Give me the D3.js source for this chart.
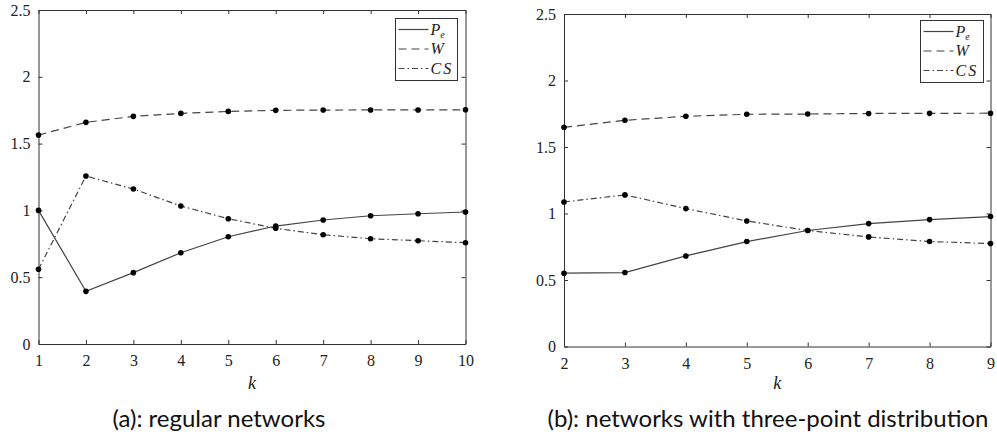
<!DOCTYPE html>
<html>
<head>
<meta charset="utf-8">
<script src="https://cdn.jsdelivr.net/npm/d3@7"></script>
<style>
  body { margin: 0; background: #fff; }
  svg { display: block; }
</style>
</head>
<body>
<svg id="chart" width="997" height="440"></svg>
<script>
// panel (a): regular networks
var kA = [1, 2, 3, 4, 5, 6, 7, 8, 9, 10];
var peA = [1.0, 0.394, 0.534, 0.683, 0.803, 0.883, 0.928, 0.960, 0.975, 0.988];
var wA = [1.564, 1.659, 1.704, 1.726, 1.741, 1.749, 1.751, 1.752, 1.752, 1.753];
var csA = [0.559, 1.257, 1.160, 1.033, 0.938, 0.866, 0.818, 0.788, 0.773, 0.758];

// panel (b): three-point distribution
var kB = [2, 3, 4, 5, 6, 7, 8, 9];
var peB = [0.551, 0.556, 0.681, 0.789, 0.872, 0.924, 0.954, 0.977];
var wB = [1.648, 1.701, 1.731, 1.746, 1.748, 1.752, 1.753, 1.754];
var csB = [1.087, 1.140, 1.037, 0.944, 0.872, 0.824, 0.789, 0.774];

var yTicks = [0, 0.5, 1, 1.5, 2, 2.5];
var legendLabels = ['P', 'W', 'CS'];
var dashes = [null, '8,5', '6,3,1.5,3'];

var serif = '"Liberation Serif"';
var svg = d3.select('#chart');

function drawPanel(opt) {
  var g = svg.append('g');
  var x = d3.scaleLinear().domain(d3.extent(opt.k)).range([opt.left, opt.right]);
  var y = d3.scaleLinear().domain([0, 2.5]).range([opt.bottom, opt.top]);

  // axes, MATLAB style ticks pointing inward
  g.append('g')
    .attr('transform', 'translate(0,' + opt.bottom + ')')
    .call(d3.axisBottom(x).tickValues(opt.k).tickFormat(d3.format('d')).tickSizeInner(-4).tickSizeOuter(0).tickPadding(11));
  g.append('g')
    .attr('transform', 'translate(' + opt.left + ',0)')
    .call(d3.axisLeft(y).tickValues(yTicks).tickFormat(function(d) { return d; }).tickSizeInner(-4).tickSizeOuter(0).tickPadding(8));
  g.append('g')
    .attr('transform', 'translate(0,' + opt.top + ')')
    .call(d3.axisTop(x).tickValues(opt.k).tickFormat('').tickSizeInner(-4).tickSizeOuter(0));
  g.append('g')
    .attr('transform', 'translate(' + opt.right + ',0)')
    .call(d3.axisRight(y).tickValues(yTicks).tickFormat('').tickSizeInner(-4).tickSizeOuter(0));
  g.selectAll('.domain').attr('stroke', '#333');
  g.selectAll('.tick line').attr('stroke', '#333');
  g.selectAll('.tick text')
    .style('font-family', serif)
    .style('font-size', '16px')
    .attr('fill', '#222');

  var series = [opt.pe, opt.w, opt.cs];
  series.forEach(function(vals, i) {
    var pts = opt.k.map(function(k, j) { return [k, vals[j]]; });
    var line = d3.line().x(function(d) { return x(d[0]); }).y(function(d) { return y(d[1]); });
    g.append('path')
      .datum(pts)
      .attr('d', line)
      .attr('fill', 'none')
      .attr('stroke', '#444')
      .attr('stroke-width', 1.2)
      .attr('stroke-dasharray', dashes[i]);
    g.selectAll(null)
      .data(pts)
      .enter()
      .append('circle')
      .attr('cx', function(d) { return x(d[0]); })
      .attr('cy', function(d) { return y(d[1]); })
      .attr('r', 2.8)
      .attr('fill', '#000');
  });

  // x axis label
  g.append('text')
    .attr('x', (opt.left + opt.right) / 2)
    .attr('y', 389)
    .attr('text-anchor', 'middle')
    .style('font-family', serif)
    .style('font-style', 'italic')
    .style('font-size', '18px')
    .attr('fill', '#222')
    .text('k');

  // legend
  var lg = g.append('g').attr('transform', 'translate(' + opt.legX + ',' + opt.legY + ')');
  lg.append('rect')
    .attr('width', opt.legW).attr('height', 62)
    .attr('fill', '#fff').attr('stroke', '#333').attr('stroke-width', 1);
  legendLabels.forEach(function(lab, i) {
    var ly = 11 + i * 19.5;
    lg.append('line')
      .attr('x1', 3).attr('x2', 33).attr('y1', ly).attr('y2', ly)
      .attr('stroke', '#444').attr('stroke-width', 1.2)
      .attr('stroke-dasharray', dashes[i]);
    var t = lg.append('text')
      .attr('x', 35).attr('y', ly + 5)
      .style('font-family', serif)
      .style('font-style', 'italic')
      .style('font-size', '16px')
      .style('letter-spacing', lab === 'CS' ? '2px' : '0px')
      .attr('fill', '#222')
      .text(lab);
    if (lab === 'P') {
      t.append('tspan').attr('dy', 3).style('font-size', '10px').text('e');
    }
  });

  svg.append('text')
    .attr('x', opt.capX)
    .attr('y', 427)
    .attr('text-anchor', 'middle')
    .style('font-family', 'Lato')
    .style('font-size', '24px')
    .attr('fill', '#111')
    .text(opt.caption);
}

drawPanel({ k: kA, pe: peA, w: wA, cs: csA, left: 38.5, right: 465.5, top: 10, bottom: 344,
  legX: 395.5, legY: 18.5, legW: 62, capX: 219, caption: '(a): regular networks' });
drawPanel({ k: kB, pe: peB, w: wB, cs: csB, left: 564, right: 990.5, top: 14, bottom: 346.5,
  legX: 920.5, legY: 20.5, legW: 63, capX: 768, caption: '(b): networks with three-point distribution' });
</script>
</body>
</html>
